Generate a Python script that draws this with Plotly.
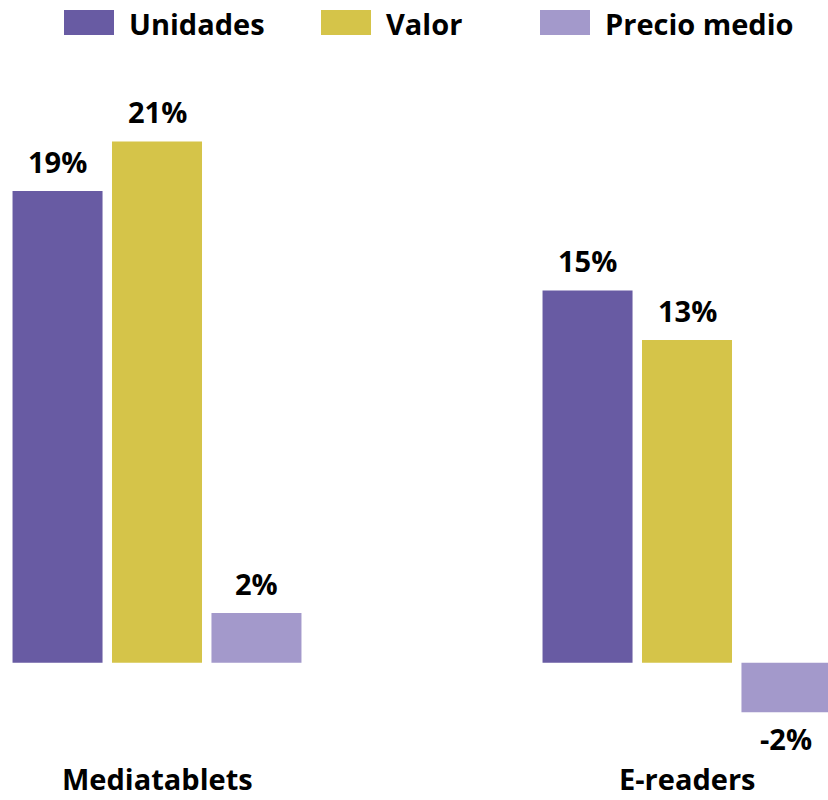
import plotly.graph_objects as go

categories = ["Mediatablets", "E-readers"]
series_names = ["Unidades", "Valor", "Precio medio"]
unidades = [19, 15]
valor = [21, 13]
precio_medio = [2, -2]
colors = ["#685ba3", "#d5c449", "#a399cb"]

series_values = [unidades, valor, precio_medio]

W, H = 828, 800
ML, MR, MT, MB = 0, 0, 67, 38
FONT = "Open Sans"
FS = 29
BARGAP, GROUPGAP = 0.437, 0.095

fig = go.Figure()
for name, vals, col in zip(series_names, series_values, colors):
    fig.add_trace(go.Bar(
        name=name, x=list(range(len(categories))), y=vals, marker_color=col,
        marker_line_width=0, showlegend=False, hoverinfo="skip",
    ))

# value labels
slot = (1 - BARGAP) / len(series_names)
for j, vals in enumerate(series_values):
    for i, v in enumerate(vals):
        xpos = i + (j - (len(series_names) - 1) / 2) * slot
        fig.add_annotation(
            x=xpos, y=v, xref="x", yref="y", text=f"{v}%", showarrow=False,
            yanchor="bottom" if v >= 0 else "top", yshift=8 if v >= 0 else -5,
            font=dict(family=FONT, size=FS, color="black", weight="bold"))

spacing = 530.0
x0 = -157.0 / spacing
x1 = x0 + (W - ML - MR) / spacing
plot_h = H - MT - MB

fig.update_layout(
    width=W, height=H,
    margin=dict(l=ML, r=MR, t=MT, b=MB),
    paper_bgcolor="white", plot_bgcolor="white",
    barmode="group", bargap=BARGAP, bargroupgap=GROUPGAP,
    xaxis=dict(range=[x0, x1], showticklabels=False, showgrid=False,
               zeroline=False, showline=False, ticks=""),
    yaxis=dict(range=[-4, 24], showticklabels=False, showgrid=False,
               zeroline=False, showline=False, ticks=""),
    showlegend=False,
)

# category labels
for i, c in enumerate(categories):
    fig.add_annotation(x=i, y=-(779 - (H - MB)) / plot_h, xref="x", yref="paper",
                       text=c, showarrow=False, yanchor="middle",
                       font=dict(family=FONT, size=FS, color="black", weight="bold"))

# custom legend
leg_x = [64, 321, 540]
for name, col, lx in zip(series_names, colors, leg_x):
    fig.add_shape(type="rect", xref="paper", yref="paper",
                  x0=lx / W, x1=(lx + 50) / W,
                  y0=1 + (MT - 35) / plot_h, y1=1 + (MT - 10) / plot_h,
                  fillcolor=col, line_width=0)
    fig.add_annotation(x=(lx + 63) / W, y=1 + (MT - 24) / plot_h, xref="paper", yref="paper",
                       text=name, showarrow=False, xanchor="left", yanchor="middle",
                       font=dict(family=FONT, size=FS, color="black", weight="bold"))

fig.write_html(
    "out.html",
    config={"displayModeBar": False},
    post_script="document.body.style.margin='0';document.body.style.overflow='hidden';",
)
